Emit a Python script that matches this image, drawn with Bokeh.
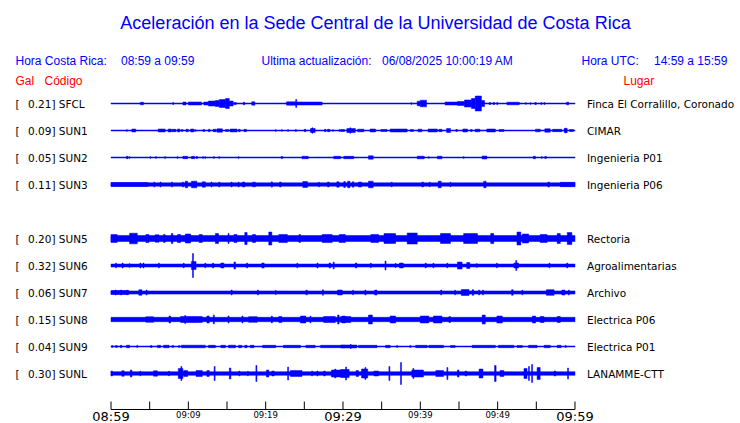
from bokeh.plotting import figure
from bokeh.models import Range1d, Label
from bokeh.embed import file_html
from bokeh.resources import INLINE

# ---------------- data ----------------
CODES = ["SFCL", "SUN1", "SUN2", "SUN3", "SUN5", "SUN6", "SUN7", "SUN8", "SUN9", "SUNL"]
PLACES = ["Finca El Corralillo, Coronado", "CIMAR", "Ingenieria P01", "Ingenieria P06",
          "Rectoria", "Agroalimentarias", "Archivo", "Electrica P06", "Electrica P01", "LANAMME-CTT"]
PEAK_GAL = [0.21, 0.09, 0.05, 0.11, 0.20, 0.32, 0.06, 0.15, 0.04, 0.30]
ROW_SLOT = [0, 1, 2, 3, 5, 6, 7, 8, 9, 10]
# half-width of the continuous background noise band of each trace
NOISE = [0.5, 0.5, 0.5, 1.7, 3.0, 1.5, 1.6, 2.2, 0.5, 1.8]

# bursts: (start minute, end minute, half amplitude)
SFCL = [(3.8, 4.2, 1.3), (8.0, 8.1, 1.0), (9.3, 9.7, 1.5), (10.0, 11.7, 1.5), (12.0, 12.6, 1.5),
        (12.6, 13.5, 2.5), (13.5, 14.0, 3.0), (14.0, 14.8, 4.0), (14.8, 15.3, 5.0), (15.3, 15.8, 2.5),
        (15.9, 16.2, 1.0), (17.1, 17.3, 1.2), (18.2, 18.6, 1.7), (22.7, 23.9, 1.7), (23.9, 24.0, 4.0),
        (24.0, 27.3, 1.5), (38.8, 38.9, 0.8), (39.6, 40.0, 2.3), (40.0, 40.8, 3.3), (43.2, 44.8, 1.5),
        (44.8, 45.7, 2.0), (45.7, 46.6, 3.5), (46.6, 47.1, 5.0), (47.1, 47.9, 7.5), (47.9, 48.3, 3.0),
        (48.9, 49.1, 1.0), (49.4, 49.6, 1.0), (49.9, 50.0, 1.0), (51.2, 52.8, 1.3), (53.6, 53.7, 0.8),
        (54.2, 54.3, 0.8), (54.8, 55.0, 1.0), (55.6, 55.7, 1.0), (56.0, 56.1, 1.0), (58.9, 59.2, 1.3)]
SUN1 = [(2.0, 2.1, 0.8), (2.7, 3.2, 1.5), (6.1, 7.0, 1.5), (7.4, 7.8, 1.5), (7.9, 8.4, 1.2), (8.6, 8.9, 1.5),
        (9.1, 9.3, 1.0), (9.7, 10.0, 1.2), (10.3, 10.7, 1.5), (10.8, 11.0, 0.8), (11.9, 12.1, 1.0),
        (12.6, 12.8, 1.2), (13.2, 13.6, 1.2), (13.7, 14.4, 1.7), (14.8, 15.2, 1.0), (15.4, 16.3, 1.5),
        (16.5, 16.7, 1.2), (17.2, 17.5, 1.2), (21.3, 21.3, 0.8), (22.1, 22.1, 0.8), (22.9, 22.9, 0.8),
        (23.9, 23.9, 1.0), (25.0, 25.2, 1.2), (25.8, 26.4, 2.0), (26.0, 26.1, 2.7), (27.6, 27.8, 1.2),
        (28.0, 28.3, 1.2), (28.7, 28.7, 0.8), (29.5, 29.6, 0.8), (29.7, 30.2, 1.0), (30.5, 31.6, 2.0),
        (30.9, 31.0, 2.7), (31.9, 32.7, 1.3), (33.5, 34.2, 1.5), (34.9, 35.7, 1.0), (36.1, 38.3, 1.5),
        (38.7, 39.1, 1.0), (39.7, 40.2, 1.3), (41.0, 42.2, 1.5), (42.4, 42.8, 1.2), (43.4, 43.9, 2.0),
        (44.6, 44.8, 1.0), (45.5, 46.1, 1.5), (46.5, 46.7, 1.0), (47.1, 47.7, 1.3), (48.6, 49.7, 1.5),
        (50.2, 50.8, 1.0), (54.9, 55.5, 1.3), (56.1, 56.8, 1.7), (57.1, 58.3, 1.2), (58.6, 59.0, 2.0),
        (58.8, 58.8, 2.5), (59.3, 59.8, 1.0)]
SUN2 = [(2.0, 2.2, 1.2), (2.4, 2.4, 0.8), (5.1, 5.1, 0.8), (5.8, 5.8, 0.8), (7.0, 7.0, 0.8), (8.6, 8.6, 0.8),
        (9.3, 9.9, 1.2), (10.4, 10.8, 1.2), (11.0, 11.2, 1.0), (11.9, 11.9, 0.8), (12.2, 12.2, 0.8),
        (13.3, 13.3, 0.8), (14.0, 14.0, 0.8), (16.5, 16.5, 0.8), (22.0, 22.2, 1.0), (24.7, 25.5, 1.2),
        (28.8, 29.7, 1.2), (30.1, 31.4, 1.2), (33.3, 33.9, 1.7), (39.6, 40.5, 1.3), (41.1, 41.1, 0.8),
        (42.2, 42.8, 1.3), (45.6, 45.6, 0.8), (48.0, 48.6, 1.5), (54.6, 54.9, 1.2), (55.7, 55.7, 0.8),
        (56.1, 56.3, 1.0)]
SUN3 = [(0.0, 4.8, 2.0), (5.6, 5.6, 2.5), (6.4, 6.4, 2.5), (7.9, 7.9, 2.5), (9.3, 9.3, 2.5), (9.6, 9.9, 3.3),
        (10.4, 11.1, 3.3), (11.8, 12.2, 2.7), (13.0, 13.0, 2.5), (14.0, 14.0, 2.5), (15.6, 15.6, 2.5),
        (16.5, 16.5, 2.5), (17.0, 17.3, 2.5), (18.3, 18.7, 2.3), (20.8, 20.8, 2.7), (21.8, 22.0, 2.5),
        (24.8, 25.4, 3.0), (26.9, 26.9, 2.3), (28.0, 28.2, 2.5), (29.2, 29.5, 2.7), (30.1, 30.3, 3.0),
        (30.6, 30.9, 3.3), (31.2, 31.4, 2.7), (32.0, 32.4, 2.5), (33.3, 33.9, 3.3), (36.3, 36.3, 2.3),
        (40.2, 40.4, 2.5), (41.2, 41.2, 2.3), (42.3, 42.7, 3.3), (43.9, 43.9, 2.3), (48.2, 48.5, 3.3),
        (56.5, 56.7, 2.5), (58.1, 60.0, 2.2)]
SUN5 = [(0.0, 0.8, 4.0), (2.4, 3.4, 5.3), (4.5, 4.9, 4.0), (5.7, 6.2, 3.7), (6.8, 7.0, 4.0), (7.8, 8.0, 5.0),
        (8.6, 9.0, 4.0), (9.6, 10.3, 4.5), (11.4, 11.8, 4.0), (13.5, 13.9, 5.0), (15.2, 15.2, 5.0),
        (15.9, 16.3, 4.0), (17.3, 17.6, 6.0), (18.3, 18.7, 4.0), (20.4, 20.8, 6.5), (21.7, 22.8, 4.0),
        (24.3, 24.5, 4.0), (27.3, 28.6, 4.0), (29.5, 30.3, 4.0), (33.6, 34.6, 4.0), (35.3, 36.8, 5.0),
        (38.3, 39.6, 5.5), (42.6, 43.9, 5.0), (45.6, 47.4, 5.0), (49.1, 49.5, 5.0), (52.5, 53.0, 6.5),
        (53.2, 54.0, 4.5), (55.5, 56.4, 4.0), (57.7, 58.1, 5.0), (59.0, 59.6, 6.0)]
SUN6 = [(0.6, 0.7, 2.3), (1.5, 1.5, 2.5), (2.4, 2.4, 1.8), (3.8, 3.8, 2.5), (4.2, 4.2, 2.5), (6.2, 6.2, 2.3),
        (9.4, 9.4, 2.3), (10.4, 11.0, 4.0), (10.6, 10.6, 12.0), (12.2, 12.2, 2.3), (13.2, 13.2, 2.5),
        (14.2, 14.6, 2.5), (15.9, 16.1, 3.5), (17.6, 17.6, 2.5), (19.5, 19.8, 2.5), (24.1, 24.1, 2.3),
        (26.7, 26.7, 2.5), (28.2, 28.4, 2.5), (28.8, 28.8, 3.5), (31.6, 31.8, 2.5), (33.6, 33.6, 2.3),
        (35.5, 35.5, 4.5), (36.8, 36.8, 2.0), (37.3, 37.8, 2.5), (40.7, 40.7, 2.5), (41.7, 41.7, 2.3),
        (43.5, 43.5, 2.3), (44.8, 45.4, 3.5), (46.0, 46.4, 3.0), (47.3, 47.3, 1.8), (49.9, 49.9, 2.3),
        (52.1, 52.7, 2.5), (52.4, 52.4, 5.0), (56.7, 56.7, 2.3), (59.0, 59.0, 2.5)]
SUN7 = [(0.0, 2.3, 2.0), (0.6, 0.6, 2.5), (1.3, 1.3, 2.5), (2.1, 2.1, 2.3), (3.6, 4.0, 2.8), (4.6, 4.6, 2.5),
        (15.6, 15.6, 2.5), (19.0, 19.0, 2.5), (21.3, 21.3, 2.0), (25.2, 25.4, 2.3), (27.4, 27.4, 2.8),
        (29.3, 29.9, 2.5), (31.3, 31.3, 2.2), (32.9, 32.9, 2.5), (34.1, 34.4, 2.5), (42.7, 42.7, 2.5),
        (44.5, 44.5, 2.3), (45.3, 46.3, 3.0), (46.7, 46.9, 2.8), (47.6, 47.6, 2.5), (48.1, 48.1, 2.5),
        (51.8, 52.0, 2.8), (53.2, 53.2, 2.3), (56.3, 57.3, 2.8), (58.3, 58.7, 2.5), (59.2, 59.2, 2.5)]
SUN8 = [(4.5, 5.5, 2.7), (7.5, 7.7, 3.5), (9.0, 11.8, 3.0), (9.6, 9.6, 4.0), (12.4, 12.7, 3.5),
        (13.3, 13.3, 4.5), (15.2, 15.2, 3.5), (17.0, 17.0, 3.5), (17.8, 18.9, 2.8), (20.8, 20.8, 3.5),
        (21.7, 22.1, 3.0), (24.5, 25.2, 3.5), (25.8, 25.8, 3.3), (27.5, 29.0, 3.0), (29.3, 29.5, 4.5),
        (29.7, 31.0, 3.0), (29.9, 30.3, 3.5), (33.3, 33.8, 4.5), (36.1, 36.8, 3.5), (40.0, 41.1, 3.5),
        (41.7, 42.8, 3.5), (43.7, 43.9, 3.0), (48.0, 48.4, 4.5), (49.9, 50.6, 3.5), (54.5, 54.9, 3.5),
        (55.5, 56.0, 3.0), (57.7, 58.1, 3.0)]
SUN9 = [(0.1, 0.2, 1.0), (0.6, 0.8, 1.0), (1.2, 1.4, 1.2), (2.0, 2.4, 1.3), (3.4, 3.4, 1.0), (5.1, 5.3, 1.0),
        (6.0, 6.4, 1.2), (6.8, 7.5, 1.3), (7.9, 8.1, 1.0), (8.8, 8.8, 1.0), (9.1, 12.2, 1.3),
        (12.6, 13.5, 1.2), (14.2, 14.8, 1.2), (15.2, 16.1, 1.3), (16.5, 16.9, 1.2), (17.3, 17.6, 1.2),
        (18.0, 18.5, 1.2), (19.6, 21.3, 1.2), (22.3, 24.5, 1.2), (25.2, 26.4, 1.2), (27.1, 30.3, 1.2),
        (29.7, 31.8, 1.5), (31.0, 31.0, 2.0), (32.0, 34.4, 1.2), (35.5, 36.1, 1.2), (37.0, 37.0, 1.0),
        (38.7, 38.7, 1.0), (39.4, 40.9, 1.2), (41.1, 43.0, 1.2), (43.9, 44.5, 1.0), (46.7, 49.7, 1.2),
        (50.1, 52.1, 1.2), (52.5, 53.2, 1.0), (54.0, 55.1, 1.2), (56.0, 56.8, 1.2), (57.7, 58.2, 1.2),
        (58.8, 58.8, 1.0)]
SUNL = [(0.0, 0.2, 2.5), (1.4, 1.7, 2.8), (2.5, 2.7, 3.5), (3.8, 3.8, 2.3), (5.5, 6.0, 2.7), (7.5, 7.5, 2.3),
        (8.7, 9.3, 5.0), (9.1, 9.1, 7.0), (9.4, 9.9, 3.0), (11.0, 11.8, 3.0), (12.4, 12.7, 3.0),
        (13.4, 13.4, 7.0), (15.3, 15.5, 5.5), (16.6, 16.6, 2.5), (17.7, 17.7, 2.3), (18.8, 18.8, 8.0),
        (20.1, 20.4, 3.5), (20.8, 21.1, 2.5), (22.9, 22.9, 6.5), (23.2, 24.7, 3.0), (26.0, 26.0, 2.5),
        (26.7, 26.7, 2.5), (27.5, 27.7, 2.5), (28.5, 30.3, 3.5), (29.0, 29.0, 4.5), (29.7, 30.8, 4.0),
        (30.4, 30.4, 6.5), (31.7, 32.0, 3.0), (32.4, 33.2, 4.5), (32.9, 32.9, 6.0), (34.0, 34.6, 2.5),
        (36.0, 36.0, 7.0), (37.5, 37.5, 11.0), (38.9, 40.4, 3.5), (39.1, 39.1, 5.0), (42.0, 43.0, 3.0),
        (43.5, 43.5, 6.0), (44.8, 45.0, 3.5), (45.8, 46.0, 2.5), (47.6, 48.1, 4.5), (49.6, 49.8, 8.0),
        (50.3, 50.8, 3.0), (53.4, 53.8, 5.0), (54.0, 54.1, 7.0), (54.4, 54.5, 9.0), (55.1, 55.5, 6.0),
        (57.3, 57.5, 2.5), (59.1, 59.1, 5.5)]
TRACES = [SFCL, SUN1, SUN2, SUN3, SUN5, SUN6, SUN7, SUN8, SUN9, SUNL]

TICK_MIN = [0, 5, 10, 15, 20, 25, 30, 35, 40, 45, 50, 55, 60]
BIG_TICK_LABELS = [(0, "08:59"), (30, "09:29"), (60, "09:59")]
SMALL_TICK_LABELS = [(10, "09:09"), (20, "09:19"), (40, "09:39"), (50, "09:49")]

# ---------------- layout ----------------
W, H = 740, 423
X0_PX = 110.5          # canvas x of minute 0
PX_PER_MIN = 7.733
Y0_PX = 103            # canvas y of first trace baseline
ROW_PX = 27
SPIKE_W = 0.13         # minimum burst width (minutes)


def X(px):
    return (px - X0_PX) / PX_PER_MIN


def Y(py):
    return py - Y0_PX


p = figure(width=W, height=H, output_backend="svg", toolbar_location=None,
           x_range=Range1d(-X0_PX / PX_PER_MIN, (W - X0_PX) / PX_PER_MIN),
           y_range=Range1d(H - Y0_PX, -Y0_PX),
           x_axis_location=None, y_axis_location=None, min_border=0)
p.grid.visible = False
p.outline_line_color = None
p.background_fill_color = "white"
p.border_fill_color = "white"

BLUE = "#0000ff"

# traces
left, right, top, bottom = [], [], [], []
for slot, noise, bursts in zip(ROW_SLOT, NOISE, TRACES):
    base = slot * ROW_PX
    left.append(TICK_MIN[0]); right.append(TICK_MIN[-1])
    top.append(base - noise); bottom.append(base + noise)
    for t0, t1, a in bursts:
        if t1 - t0 < SPIKE_W:
            c = (t0 + t1) / 2
            t0, t1 = c - SPIKE_W / 2, c + SPIKE_W / 2
        left.append(t0); right.append(t1)
        top.append(base - a); bottom.append(base + a)
p.quad(left=left, right=right, top=top, bottom=bottom,
       fill_color=BLUE, line_color=BLUE, line_width=0.5)

# time axis
AXIS_Y = Y(409)
TICK_TOP = Y(401)
p.segment(x0=[TICK_MIN[0]], y0=[AXIS_Y], x1=[TICK_MIN[-1]], y1=[AXIS_Y], line_color="black", line_width=1)
p.segment(x0=TICK_MIN, y0=[AXIS_Y] * len(TICK_MIN), x1=TICK_MIN, y1=[TICK_TOP] * len(TICK_MIN),
          line_color="black", line_width=1)
for m, txt in BIG_TICK_LABELS:
    p.add_layout(Label(x=m, y=Y(416), text=txt, text_font="DejaVu Sans", text_font_size="13px",
                       text_color="black", text_align="center", text_baseline="middle"))
for m, txt in SMALL_TICK_LABELS:
    p.add_layout(Label(x=m, y=Y(414.5), text=txt, text_font="DejaVu Sans", text_font_size="8.5px",
                       text_color="black", text_align="center", text_baseline="middle"))

# row labels
for slot, code, place, g in zip(ROW_SLOT, CODES, PLACES, PEAK_GAL):
    yy = slot * ROW_PX
    p.add_layout(Label(x=X(15), y=yy, text="[", text_font="DejaVu Sans", text_font_size="10.5px",
                       text_color="black", text_baseline="middle"))
    p.add_layout(Label(x=X(27.5), y=yy, text=f"{g:.2f}] {code}", text_font="DejaVu Sans",
                       text_font_size="10.5px", text_color="black", text_baseline="middle"))
    p.add_layout(Label(x=X(586.5), y=yy, text=place, text_font="DejaVu Sans",
                       text_font_size="10.5px", text_color="black", text_baseline="middle"))

# header texts
def head(px, py, txt, size="12px", color=BLUE, align="left"):
    p.add_layout(Label(x=X(px), y=Y(py), text=txt, text_font="Liberation Sans", text_font_size=size,
                       text_color=color, text_align=align, text_baseline="middle"))

head(375, 22.5, "Aceleración en la Sede Central de la Universidad de Costa Rica", size="18px", align="center")
head(15, 60.5, "Hora Costa Rica:")
head(120.5, 60.5, "08:59 a 09:59")
head(261, 60.5, "Ultima actualización:")
head(381.5, 60.5, "06/08/2025 10:00:19 AM")
head(581, 60.5, "Hora UTC:")
head(653.5, 60.5, "14:59 a 15:59")
head(15, 80.5, "Gal", color="red")
head(44, 80.5, "Código", color="red")
head(623, 80.5, "Lugar", color="red")

open("out.html", "w").write(file_html(p, INLINE))
